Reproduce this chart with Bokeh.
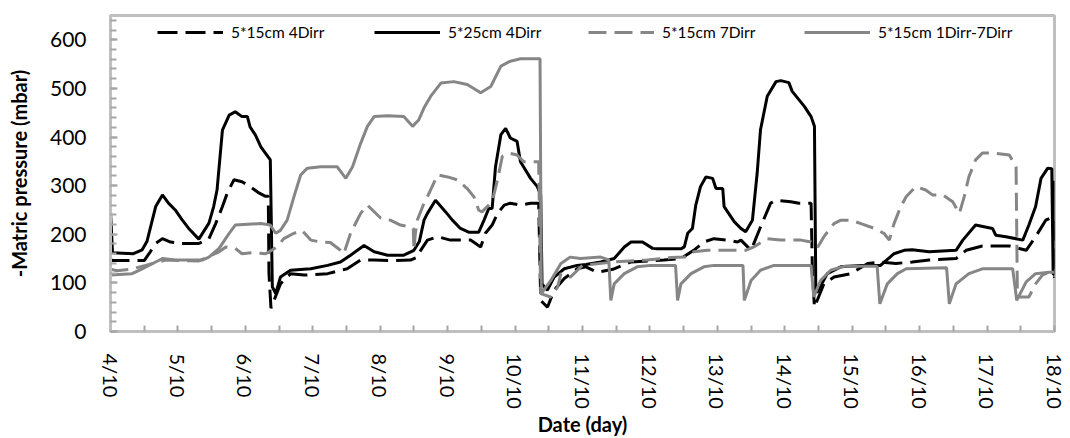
import math
from bokeh.plotting import figure
from bokeh.models import Range1d, FixedTicker, Legend, LegendItem
from bokeh.embed import file_html
from bokeh.resources import INLINE

# ---- axis ticks ----
tick_days = [4, 5, 6, 7, 8, 9, 10, 11, 12, 13, 14, 15, 16, 17, 18]
tick_labels = ["4/10", "5/10", "6/10", "7/10", "8/10", "9/10", "10/10", "11/10",
               "12/10", "13/10", "14/10", "15/10", "16/10", "17/10", "18/10"]

# ---- series: 5*15cm 4Dirr (black dashed) ----
s15_4d_day = [4.00, 4.02, 4.50, 4.59, 4.67, 4.77, 4.89, 5.06, 5.31, 5.46, 5.56, 5.66, 5.73, 5.83,
              5.95, 6.05, 6.20, 6.30, 6.34, 6.35, 6.38, 6.52, 6.67, 6.87, 7.22, 7.51, 7.71, 7.91,
              8.20, 8.45, 8.55, 8.60, 8.70, 8.85, 9.04, 9.34, 9.49, 9.56, 9.66, 9.74, 9.84, 9.93,
              10.08, 10.23, 10.35, 10.38, 10.48, 10.58, 10.73, 10.92, 11.05, 11.22, 11.45, 11.72,
              12.21, 12.46, 12.65, 12.80, 12.95, 13.15, 13.30, 13.35, 13.50, 13.64, 13.79, 13.87,
              14.09, 14.21, 14.39, 14.41, 14.44, 14.58, 14.73, 14.98, 15.23, 15.42, 15.65, 15.89,
              16.14, 16.54, 16.69, 16.93, 17.33, 17.58, 17.72, 17.87, 17.98, 18.00]
s15_4d_val = [150, 146, 146, 164, 181, 191, 184, 181, 181, 191, 222, 257, 284, 312,
              308, 300, 285, 278, 278, 120, 48, 98, 119, 116, 119, 129, 147, 147,
              146, 147, 153, 167, 188, 195, 188, 188, 174, 202, 219, 243, 260, 264,
              260, 264, 264, 64, 50, 85, 109, 129, 133, 122, 128, 143,
              147, 150, 167, 184, 191, 188, 184, 188, 167, 215, 264, 270,
              267, 264, 264, 120, 50, 98, 112, 119, 140, 143, 140, 143,
              147, 150, 167, 176, 176, 167, 195, 229, 236, 110]

# ---- series: 5*25cm 4Dirr (black solid) ----
s25_4d_day = [4.00, 4.03, 4.34, 4.47, 4.54, 4.67, 4.77, 4.86, 4.96, 5.06, 5.16, 5.31, 5.46, 5.53,
              5.58, 5.66, 5.76, 5.85, 5.95, 6.03, 6.07, 6.15, 6.23, 6.37, 6.40, 6.45, 6.52, 6.67,
              6.97, 7.22, 7.41, 7.56, 7.76, 7.91, 8.11, 8.35, 8.50, 8.58, 8.65, 8.70, 8.82, 8.97,
              9.07, 9.19, 9.32, 9.46, 9.54, 9.61, 9.66, 9.71, 9.79, 9.86, 9.93, 10.03, 10.08,
              10.23, 10.33, 10.38, 10.40, 10.48, 10.58, 10.73, 10.92, 11.05, 11.27, 11.47, 11.62,
              11.72, 11.89, 12.04, 12.11, 12.46, 12.51, 12.56, 12.63, 12.68, 12.75, 12.83, 12.93,
              12.98, 13.08, 13.10, 13.25, 13.35, 13.42, 13.52, 13.59, 13.64, 13.74, 13.87, 13.94,
              14.06, 14.11, 14.29, 14.39, 14.44, 14.46, 14.48, 14.63, 14.83, 15.13, 15.42, 15.62,
              15.77, 15.89, 16.14, 16.54, 16.64, 16.83, 17.08, 17.13, 17.28, 17.53, 17.62, 17.72,
              17.80, 17.90, 17.96, 17.98, 18.00, 18.00]
s25_4d_val = [247, 162, 160, 168, 185, 257, 281, 264, 250, 230, 212, 190, 223, 257,
              291, 414, 445, 452, 442, 442, 421, 404, 380, 353, 92, 78, 112, 126,
              129, 136, 143, 157, 177, 164, 157, 157, 167, 185, 229, 243, 270, 246,
              229, 212, 204, 204, 229, 253, 253, 339, 405, 418, 398, 391, 349,
              315, 298, 281, 98, 85, 112, 129, 136, 138, 143, 150, 174,
              184, 184, 171, 170, 170, 174, 202, 212, 260, 298, 318, 315,
              294, 294, 257, 226, 212, 205, 229, 325, 415, 484, 514, 516,
              512, 494, 463, 442, 422, 85, 80, 119, 133, 136, 136, 160,
              167, 168, 164, 167, 188, 219, 212, 198, 195, 188, 219, 257,
              315, 336, 335, 118, 118, 310]

# ---- series: 5*15cm 7Dirr (grey dashed) ----
s15_7d_day = [4.00, 4.10, 4.30, 4.52, 4.82, 5.31, 5.61, 5.71, 5.85, 5.95, 6.10, 6.30, 6.40, 6.47,
              6.57, 6.72, 6.84, 6.97, 7.12, 7.26, 7.41, 7.46, 7.56, 7.71, 7.81, 8.01, 8.15, 8.30,
              8.45, 8.49, 8.50, 8.52, 8.55, 8.65, 8.70, 8.85, 9.00, 9.14, 9.29, 9.39, 9.46, 9.51,
              9.66, 9.74, 9.81, 9.91, 10.03, 10.13, 10.35, 10.38, 10.53, 10.63, 10.68, 10.82,
              11.00, 11.47, 11.96, 12.31, 12.51, 12.65, 12.85, 13.42, 13.54, 13.74, 13.94, 14.24,
              14.39, 14.49, 14.58, 14.73, 14.83, 14.98, 15.13, 15.33, 15.47, 15.55, 15.62, 15.72,
              15.80, 15.94, 16.09, 16.19, 16.34, 16.49, 16.59, 16.66, 16.73, 16.83, 16.93, 17.08,
              17.33, 17.43, 17.45, 17.62, 17.72, 17.82, 17.97]
s15_7d_val = [128, 125, 128, 136, 147, 145, 164, 174, 171, 160, 162, 160, 168, 174,
              191, 202, 208, 188, 184, 183, 167, 160, 202, 243, 260, 233, 229, 219,
              215, 212, 167, 200, 229, 264, 277, 322, 318, 312, 294, 277, 250, 246,
              267, 312, 360, 367, 363, 349, 349, 78, 71, 91, 119, 112,
              136, 143, 147, 152, 153, 164, 167, 167, 174, 191, 188, 188,
              184, 174, 195, 222, 229, 229, 222, 212, 202, 188, 222, 257,
              277, 298, 291, 281, 281, 267, 243, 277, 318, 353, 367, 367,
              363, 339, 71, 71, 98, 116, 126]

# ---- series: 5*15cm 1Dirr-7Dirr (grey solid) ----
s15_17d_day = [4.00, 4.32, 4.47, 4.67, 4.77, 4.96, 5.36, 5.46, 5.61, 5.76, 5.85, 6.23, 6.37, 6.45,
               6.52, 6.62, 6.72, 6.82, 6.92, 7.12, 7.36, 7.49, 7.59, 7.71, 7.81, 7.91, 8.11, 8.35,
               8.48, 8.57, 8.65, 8.75, 8.90, 9.09, 9.29, 9.49, 9.64, 9.79, 9.93, 10.08, 10.37,
               10.39, 10.53, 10.68, 10.82, 10.97, 11.27, 11.39, 11.42, 11.47, 11.62, 11.81, 12.01,
               12.38, 12.41, 12.46, 12.61, 12.80, 12.95, 13.38, 13.40, 13.50, 13.64, 13.84, 14.39,
               14.43, 14.53, 14.68, 14.88, 15.37, 15.41, 15.52, 15.67, 15.80, 16.40, 16.44, 16.54,
               16.73, 16.93, 17.38, 17.44, 17.58, 17.72, 17.92, 18.00]
s15_17d_val = [116, 119, 129, 143, 150, 147, 147, 153, 171, 202, 219, 222, 219, 202,
               208, 229, 277, 322, 336, 339, 339, 315, 339, 387, 422, 442, 444, 442,
               422, 435, 460, 484, 511, 514, 508, 491, 504, 546, 556, 561, 561,
               78, 105, 140, 153, 150, 153, 147, 64, 98, 119, 133, 136,
               136, 64, 98, 119, 133, 136, 136, 64, 105, 126, 136, 136,
               71, 105, 126, 134, 134, 57, 98, 119, 129, 131, 57, 98,
               119, 129, 129, 64, 102, 119, 122, 122]

BLACK = "#000000"
GREY = "#868686"
FRAME = "#bfbfbf"
FONT = "Lato"

p = figure(width=1070, height=438, output_backend="svg", toolbar_location=None,
           x_range=Range1d(4, 18), y_range=Range1d(0, 650),
           min_border_left=110, min_border_right=16, min_border_top=15, min_border_bottom=107)
p.background_fill_color = "white"
p.border_fill_color = "white"
p.outline_line_color = FRAME
p.outline_line_width = 3
p.xgrid.visible = False
p.ygrid.visible = False

r_a = p.line(s15_4d_day, s15_4d_val, line_color=BLACK, line_width=3, line_dash="20 8")
r_b = p.line(s25_4d_day, s25_4d_val, line_color=BLACK, line_width=3)
r_c = p.line(s15_7d_day, s15_7d_val, line_color=GREY, line_width=3, line_dash="18 8")
r_d = p.line(s15_17d_day, s15_17d_val, line_color=GREY, line_width=3)

# x axis
xa = p.xaxis[0]
xa.ticker = FixedTicker(ticks=tick_days, minor_ticks=[d + 0.5 for d in tick_days[:-1]])
xa.major_label_overrides = {d: lab for d, lab in zip(tick_days, tick_labels)}
xa.major_label_orientation = -math.pi / 2
xa.major_label_text_font = FONT
xa.major_label_text_font_size = "20px"
xa.major_label_text_color = "black"
xa.major_label_standoff = 22
xa.axis_line_color = FRAME
xa.axis_line_width = 3
xa.major_tick_in = 6
xa.major_tick_out = 0
xa.minor_tick_in = 6
xa.minor_tick_out = 0
xa.major_tick_line_color = "#a6a6a6"
xa.minor_tick_line_color = "#a6a6a6"
xa.major_tick_line_width = 2
xa.minor_tick_line_width = 2
xa.axis_label = "Date (day)"
xa.axis_label_text_font = FONT
xa.axis_label_text_font_style = "bold"
xa.axis_label_text_font_size = "20px"
xa.axis_label_text_color = "black"
xa.axis_label_standoff = 0

# y axis
ya = p.yaxis[0]
ya.ticker = FixedTicker(ticks=[0, 100, 200, 300, 400, 500, 600],
                        minor_ticks=[v for v in range(0, 660, 20)])
ya.major_label_text_font = FONT
ya.major_label_text_font_size = "21px"
ya.major_label_text_color = "black"
ya.major_label_standoff = 24
ya.axis_line_color = FRAME
ya.axis_line_width = 3
ya.major_tick_in = 7
ya.major_tick_out = 0
ya.minor_tick_in = 6
ya.minor_tick_out = 0
ya.major_tick_line_color = "#a6a6a6"
ya.minor_tick_line_color = "#a6a6a6"
ya.major_tick_line_width = 2
ya.minor_tick_line_width = 2
ya.axis_label = "-Matric pressure (mbar)"
ya.axis_label_text_font = FONT
ya.axis_label_text_font_style = "bold"
ya.axis_label_text_font_size = "20px"
ya.axis_label_text_color = "black"
ya.axis_label_standoff = 16

# legends (one per entry to match spacing)
entries = [("5*15cm 4Dirr", r_a, 47), ("5*25cm 4Dirr", r_b, 264),
           ("5*15cm 7Dirr", r_c, 478), ("5*15cm 1Dirr-7Dirr", r_d, 694)]
for label, rend, xpos in entries:
    lg = Legend(items=[LegendItem(label=label, renderers=[rend])],
                location=(xpos, 290), orientation="horizontal",
                glyph_width=66, glyph_height=18, label_standoff=8,
                padding=0, margin=0, spacing=0,
                border_line_alpha=0, background_fill_alpha=0,
                label_text_font=FONT, label_text_font_size="15.5px",
                label_text_color="black")
    p.add_layout(lg)

open("out.html", "w").write(file_html(p, INLINE))
